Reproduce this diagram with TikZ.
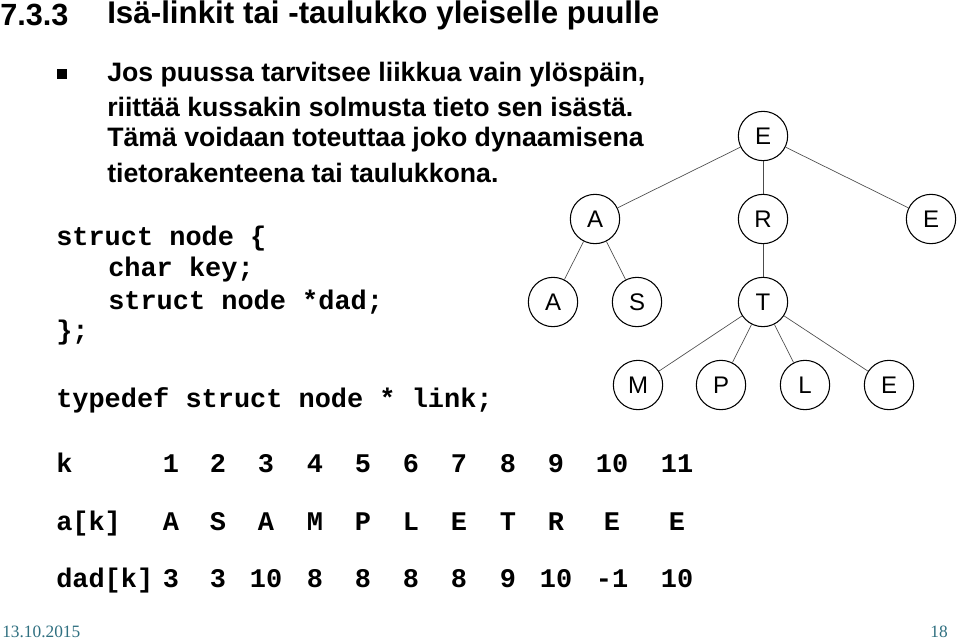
\documentclass[tikz,border=0pt]{standalone}
\usepackage{fontspec}
\setmainfont{Liberation Sans}
\newfontfamily\monof{Liberation Mono}
\newfontfamily\serf{Liberation Serif}
\definecolor{foot}{HTML}{2F6F80}
\begin{document}
\begin{tikzpicture}[x=0.75pt,y=-0.75pt,
  tn/.style={circle,draw,thick,minimum size=37pt,inner sep=0pt,font=\fontsize{18}{20}\selectfont},
  ed/.style={draw,gray!60!black,line width=0.5pt},
  txt/.style={anchor=west,inner sep=0pt,font=\fontsize{20}{24}\selectfont\bfseries},
  code/.style={anchor=west,inner sep=0pt,font=\fontsize{20.2}{24}\selectfont\monof\bfseries},
  cell/.style={inner sep=0pt,anchor=base,font=\fontsize{20.2}{24}\selectfont\monof\bfseries}]
\useasboundingbox (0,0) rectangle (960,642);
\node[txt,font=\fontsize{23}{28}\selectfont\bfseries] (t0) at (0,15) {7.3.3};
\node[txt,font=\fontsize{23.5}{28}\selectfont\bfseries] (t1) at (107,15) {Isä-linkit tai -taulukko yleiselle puulle};
\node[fill,minimum size=8pt,inner sep=0pt] (bul) at (62,74) {};
\node[txt] (b1) at (107,75) {Jos puussa tarvitsee liikkua vain ylöspäin,};
\node[txt] (b2) at (107,107) {riittää kussakin solmusta tieto sen isästä.};
\node[txt] (b3) at (107,140) {Tämä voidaan toteuttaa joko dynaamisena};
\node[txt] (b4) at (107,173) {tietorakenteena tai taulukkona.};
\node[code] (c1) at (56,239) {struct node \{};
\node[code] (c2) at (108,270) {char key;};
\node[code] (c3) at (108,302) {struct node *dad;};
\node[code] (c4) at (56,333) {\};};
\node[code] (c5) at (56,400) {typedef struct node * link;};
% tree
\node[tn] (e1) at (763,136) {E};
\node[tn] (a1) at (595,219) {A};
\node[tn] (r) at (763,219) {R};
\node[tn] (e2) at (931,219) {E};
\node[tn] (a2) at (553,302) {A};
\node[tn] (s) at (637,302) {S};
\node[tn] (t) at (763,302) {T};
\node[tn] (m) at (638,385) {M};
\node[tn] (p) at (721,385) {P};
\node[tn] (l) at (805,385) {L};
\node[tn] (e3) at (889,385) {E};
\foreach \a/\b in {e1/a1,e1/r,e1/e2,a1/a2,a1/s,r/t,t/m,t/p,t/l,t/e3}
  \draw[ed] (\a) -- (\b);
% table
\node[cell,anchor=base west] (hk) at (56,472) {k};
\node[cell,anchor=base west] (ha) at (56,530) {a[k]};
\node[cell,anchor=base west] (hd) at (56,587) {dad[k]};
\foreach \x/\k/\av/\d [count=\i] in {171/1/A/3,218/2/S/3,266/3/A/10,315/4/M/8,363/5/P/8,411/6/L/8,459/7/E/8,508/8/T/9,556/9/R/10,612/10/E/-1,677/11/E/10}{
  \node[cell] (k\i) at (\x,472) {\k};
  \node[cell] (a\i) at (\x,530) {\av};
  \node[cell] (d\i) at (\x,587) {\d};
}
\node[anchor=west,inner sep=0pt,text=foot,font=\fontsize{13}{15}\selectfont\serf] (date) at (2,632) {13.10.2015};
\node[anchor=east,inner sep=0pt,text=foot,font=\fontsize{13}{15}\selectfont\serf] (pg) at (948,632) {18};
\end{tikzpicture}
\end{document}
